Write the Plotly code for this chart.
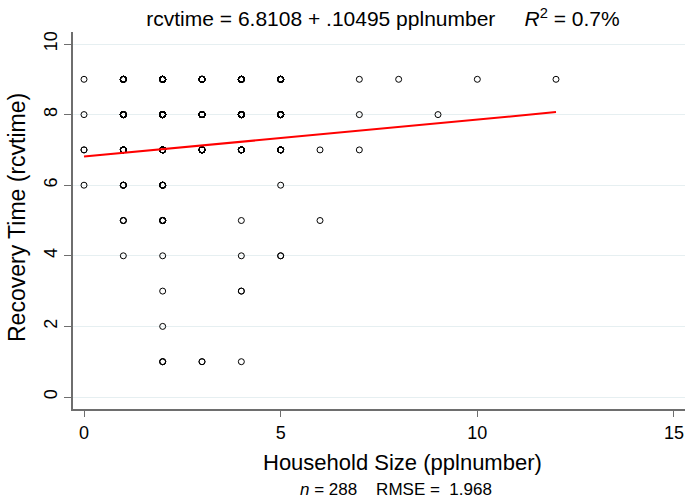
import plotly.graph_objects as go

# Distinct (household size, recovery time) points and their counts
pts_x = [0, 0, 0, 0,
         1, 1, 1, 1, 1, 1,
         2, 2, 2, 2, 2, 2, 2, 2, 2,
         3, 3, 3, 3,
         4, 4, 4, 4, 4, 4, 4,
         5, 5, 5, 5, 5,
         6, 6,
         7, 7, 7,
         8, 9, 10, 12]
pts_y = [9, 8, 7, 6,
         9, 8, 7, 6, 5, 4,
         9, 8, 7, 6, 5, 4, 3, 2, 1,
         9, 8, 7, 1,
         9, 8, 7, 5, 4, 3, 1,
         9, 8, 7, 6, 4,
         7, 5,
         9, 8, 7,
         9, 8, 9, 9]
counts = [1, 1, 2, 1,
          10, 13, 10, 5, 3, 1,
          20, 25, 20, 8, 6, 1, 1, 1, 3,
          18, 24, 15, 2,
          15, 17, 12, 1, 1, 2, 1,
          12, 14, 10, 1, 2,
          1, 1,
          1, 1, 1,
          1, 1, 1, 1]

intercept = 6.8108
slope = 0.10495
r2_text = "0.7%"
n_obs = 288
rmse = 1.968

xs, ys = [], []
for x, y, c in zip(pts_x, pts_y, counts):
    xs += [x] * c
    ys += [y] * c

fit_x = [min(pts_x), max(pts_x)]
fit_y = [intercept + slope * v for v in fit_x]

FONT = "Liberation Sans, Arial, sans-serif"

fig = go.Figure()
fig.add_trace(go.Scatter(
    x=xs, y=ys, mode="markers",
    marker=dict(symbol="circle-open", size=6, color="black", line=dict(width=1, color="black")),
    showlegend=False, hoverinfo="x+y"))
fig.add_trace(go.Scatter(
    x=fit_x, y=fit_y, mode="lines",
    line=dict(color="red", width=2), showlegend=False))

fig.update_layout(
    width=686, height=503,
    margin=dict(l=73, r=1, t=32, b=94),
    paper_bgcolor="white", plot_bgcolor="white",
    font=dict(family=FONT, color="black", size=17),
    title=dict(
        text=f"rcvtime = {intercept} + .{str(slope).split('.')[1]} pplnumber     <i>R</i><sup>2</sup> = {r2_text}",
        x=383 / 686, xanchor="center",
        y=1 - 19 / 503, yanchor="middle",
        font=dict(size=21, family=FONT, color="black")),
    xaxis=dict(
        range=[-0.28, 15.28], tickvals=[0, 5, 10, 15],
        showgrid=False, zeroline=False,
        showline=True, linecolor="#6e6e6e", linewidth=2,
        ticks="outside", ticklen=6, tickcolor="#6e6e6e", tickwidth=1,
        tickfont=dict(size=18, family=FONT)),
    yaxis=dict(
        range=[-0.34, 10.34], tickvals=[0, 2, 4, 6, 8, 10],
        showgrid=True, gridcolor="#e6eff1", gridwidth=1, zeroline=False,
        showline=True, linecolor="#6e6e6e", linewidth=2,
        ticks="outside", ticklen=7, tickcolor="#6e6e6e", tickwidth=1,
        tickangle=-90, tickfont=dict(size=18, family=FONT)),
    annotations=[
        dict(text="Household Size (pplnumber)", xref="paper", yref="paper",
             x=403 / 686 * 686 / 612 - 73 / 612, y=0, yshift=-53, xanchor="center",
             yanchor="middle", showarrow=False, font=dict(size=22, family=FONT)),
        dict(text=f"<i>n</i> = {n_obs}    RMSE =  {rmse}", xref="paper", yref="paper",
             x=(396 - 73) / 612, y=0, yshift=-80, xanchor="center",
             yanchor="middle", showarrow=False, font=dict(size=17, family=FONT)),
        dict(text="Recovery Time (rcvtime)", xref="paper", yref="paper",
             x=0, y=1 - (218 - 32) / 377, xshift=-56, xanchor="center", yanchor="middle",
             textangle=-90, showarrow=False, font=dict(size=23, family=FONT)),
    ],
)

fig.write_html("out.html")
